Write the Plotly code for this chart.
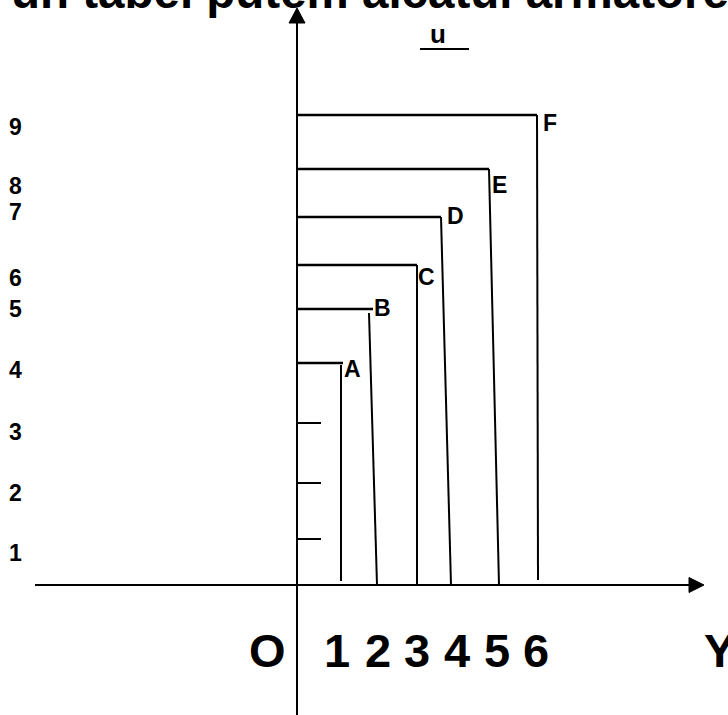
import plotly.graph_objects as go

# ---- data (diagram units: origin at axis crossing, y up) ----
shape_labels = ["A", "B", "C", "D", "E", "F"]
top_heights = [222, 276, 320, 368, 416, 470]        # height of each horizontal bar
h_ends = [46, 76, 120, 144, 192, 240]               # right end of each horizontal bar
v_top_x = [44, 72, 120, 144, 192, 240]              # vertical line top x
v_top_y = [220, 272, 320, 368, 416, 470]            # vertical line top y
v_bot_x = [44, 80, 120, 154, 202, 241]              # vertical line bottom x
v_bot_y = [4, 0, 0, 0, 0, 5]                        # vertical line bottom y
label_x = [55, 85, 129, 158, 202, 253]
label_y = [216, 277, 308, 369, 400, 462]

axis_tick_heights = [162, 102, 46]
axis_tick_len = 24

left_tick_labels = ["9", "8", "7", "6", "5", "4", "3", "2", "1"]
left_tick_y = [458, 399, 373, 307, 276, 215, 153, 92, 32]
left_label_x = -282

bottom_labels = ["O", "1", "2", "3", "4", "5", "6", "Y"]
bottom_label_x = [-30, 40, 81, 120, 160, 200, 239, 422]
bottom_label_y = -65

title_text = "un tabel putem alcatui armatore"

FONT = "Liberation Sans, Arial, sans-serif"
BLACK = "#000000"

fig = go.Figure()

def line(xs, ys, w=2):
    fig.add_trace(go.Scatter(x=xs, y=ys, mode="lines",
                             line=dict(color=BLACK, width=w),
                             hoverinfo="skip", showlegend=False))

# axes
line([0, 0], [562, -140], 2)
line([-262, 392], [0, 0], 2)
# arrowheads
fig.add_trace(go.Scatter(x=[-8, 0, 8, -8], y=[562, 577, 562, 562], mode="lines",
                         fill="toself", fillcolor=BLACK, line=dict(color=BLACK, width=1),
                         hoverinfo="skip", showlegend=False))
fig.add_trace(go.Scatter(x=[392, 407, 392, 392], y=[7.5, 0, -7.5, 7.5], mode="lines",
                         fill="toself", fillcolor=BLACK, line=dict(color=BLACK, width=1),
                         hoverinfo="skip", showlegend=False))

# L-shapes
for i in range(len(shape_labels)):
    line([0, h_ends[i]], [top_heights[i], top_heights[i]], 2.5)
    line([v_top_x[i], v_bot_x[i]], [v_top_y[i], v_bot_y[i]], 2)

# small ticks on the vertical axis
for h in axis_tick_heights:
    line([0, axis_tick_len], [h, h], 2)

# u underline
line([123, 172], [536, 536], 2)

ann = []
for lab, x, y in zip(shape_labels, label_x, label_y):
    ann.append(dict(x=x, y=y, text=f"<b>{lab}</b>", showarrow=False,
                    font=dict(family=FONT, size=23, color=BLACK)))
for lab, y in zip(left_tick_labels, left_tick_y):
    ann.append(dict(x=left_label_x, y=y, text=f"<b>{lab}</b>", showarrow=False,
                    font=dict(family=FONT, size=23, color=BLACK)))
for lab, x in zip(bottom_labels, bottom_label_x):
    ann.append(dict(x=x, y=bottom_label_y, text=f"<b>{lab}</b>", showarrow=False,
                    font=dict(family=FONT, size=47, color=BLACK)))
ann.append(dict(x=141, y=551, text="<b>u</b>", showarrow=False,
                font=dict(family=FONT, size=26, color=BLACK)))
# title text, partly above the top edge of the picture
ann.append(dict(xref="paper", yref="paper", x=0.012, y=1.0115,
                text=f"<b>{title_text}</b>", showarrow=False,
                xanchor="left", yanchor="middle",
                font=dict(family=FONT, size=47.5, color=BLACK)))

fig.update_layout(
    width=728, height=715,
    margin=dict(l=0, r=0, t=0, b=0),
    paper_bgcolor="white", plot_bgcolor="white",
    xaxis=dict(range=[-297, 431], visible=False, fixedrange=True),
    yaxis=dict(range=[-130, 585], visible=False, fixedrange=True),
    annotations=ann,
    showlegend=False,
)

fig.write_html("out.html", config={"displayModeBar": False},
               post_script="document.body.style.margin='0';")
